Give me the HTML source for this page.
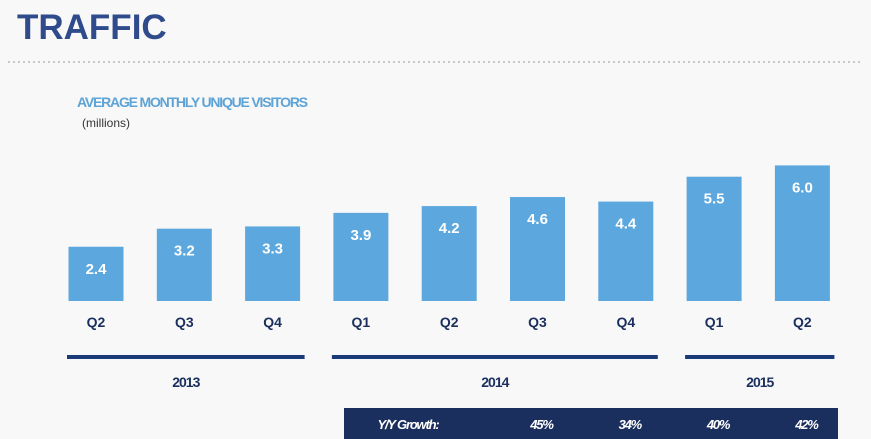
<!DOCTYPE html>
<html><head><meta charset="utf-8"><style>
body{margin:0;background:#f8f8f8;font-family:"Liberation Sans",Arial,sans-serif;}
svg{display:block}
</style></head><body>
<svg width="871" height="439" viewBox="0 0 871 439">
<rect width="871" height="439" fill="#f8f8f8"/>
<text x="17" y="39" font-size="35" font-weight="bold" fill="#2f4b8b">TRAFFIC</text>
<line x1="8" y1="62" x2="862" y2="62" stroke="#c8c8c8" stroke-width="2" stroke-dasharray="2,3"/>
<text x="77" y="107" font-size="14" font-weight="bold" fill="#5ea3d6" letter-spacing="-1.2">AVERAGE MONTHLY UNIQUE VISITORS</text>
<text x="82" y="127" font-size="12" fill="#333">(millions)</text>
<g id="bars"></g>
<g id="years"></g>
<rect x="344" y="408" width="494" height="31" fill="#1b2f5e"/>
<g id="growth"></g>
</svg>
<script>
const quarters=["Q2","Q3","Q4","Q1","Q2","Q3","Q4","Q1","Q2"];
const values=[2.4,3.2,3.3,3.9,4.2,4.6,4.4,5.5,6.0];
const years=["2013","2014","2015"];
const yearSpans=[[0,2],[3,6],[7,8]];
const growthLabels=["45%","34%","40%","42%"];
const growthIdx=[5,6,7,8];
const NS="http://www.w3.org/2000/svg";
const x0=96,step=88.3,bw=55,base=301,k=22.6;
const xs=i=>x0+i*step;
const ys=v=>base-v*k;
function mk(t,a,p,txt){const e=document.createElementNS(NS,t);for(const n in a)e.setAttribute(n,a[n]);if(txt!=null)e.textContent=txt;p.appendChild(e);return e;}
const gb=document.getElementById('bars');
values.forEach((v,i)=>{
 const r=mk('rect',{x:xs(i)-bw/2,y:ys(v),width:bw,height:base-ys(v),fill:'#5ca8de'},gb);
 
 
 const t=mk('text',{x:xs(i),y:ys(v)+27,'text-anchor':'middle','font-size':15,'font-weight':'bold',fill:'#fff'},gb,v.toFixed(1));
 
 
 const q=mk('text',{x:xs(i),y:327,'text-anchor':'middle','font-size':14,'font-weight':'bold',fill:'#1b2f5e'},gb,quarters[i]);
 
 
});
const gy=document.getElementById('years');
years.forEach((y,j)=>{
 const [a,b]=yearSpans[j];
 const x1=xs(a)-29,x2=xs(b)+32;
 const l=mk('rect',{x:x1,y:355,width:x2-x1,height:4,fill:'#1b3a78'},gy);
 
 
 const t=mk('text',{x:(x1+x2)/2,y:387,'text-anchor':'middle','font-size':14,'font-weight':'bold',fill:'#1b2f5e','letter-spacing':'-1'},gy,y);
 
 
});
const gg=document.getElementById('growth');
const h=mk('text',{x:408,y:429,'text-anchor':'middle','font-size':13,'font-weight':'bold','font-style':'italic',fill:'#fff','letter-spacing':'-1.2'},gg,'Y/Y Growth:');


growthLabels.forEach((g,j)=>{
 const t=mk('text',{x:xs(growthIdx[j])+4,y:429,'text-anchor':'middle','font-size':13,'font-weight':'bold','font-style':'italic',fill:'#fff','letter-spacing':'-1.2'},gg,g);
 
 
});
</script>
</body></html>
